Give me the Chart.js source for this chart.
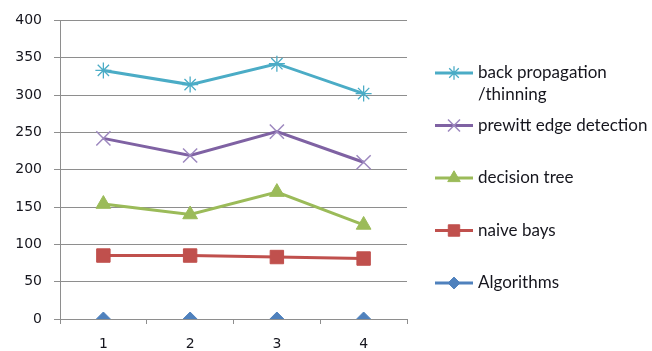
<!DOCTYPE html>
<html>
<head>
<meta charset="utf-8">
<script src="https://cdn.jsdelivr.net/npm/chart.js@4/dist/chart.umd.min.js"></script>
<style>
  html, body { margin: 0; padding: 0; background: #ffffff; }
  #wrap { width: 652px; height: 351px; }
</style>
</head>
<body>
<div id="wrap"><canvas id="chart" width="652" height="351"></canvas></div>
<script>
// Categories and series values
const categories = ['1', '2', '3', '4'];
const backPropagation = [333, 314, 342, 302];
const prewittEdge = [242, 219, 251, 210];
const decisionTree = [154, 140, 170, 126];
const naiveBays = [85, 85, 83, 81];
const algorithms = [0, 0, 0, 0];
const seriesNames = ['back propagation /thinning', 'prewitt edge detection', 'decision tree', 'naive bays', 'Algorithms'];
const yTicks = [0, 50, 100, 150, 200, 250, 300, 350, 400];

const gridColor = '#8e8e8e';
const textColor = '#16161e';

// Legend drawn at the right, line + marker + wrapped label
const sideLegend = {
  id: 'sideLegend',
  afterDraw(chart) {
    const ctx = chart.ctx;
    const x0 = 435, x1 = 473, tx = 478;
    const firstY = 73, step = 52.5, lineH = 22, maxW = 174;
    ctx.save();
    ctx.font = '17px Lato, "Open Sans", sans-serif';
    ctx.textBaseline = 'middle';
    ctx.textAlign = 'left';
    chart.data.datasets.forEach((ds, i) => {
      const y = firstY + i * step;
      ctx.strokeStyle = ds.borderColor;
      ctx.lineWidth = 3;
      ctx.beginPath();
      ctx.moveTo(x0, y);
      ctx.lineTo(x1, y);
      ctx.stroke();
      ctx.fillStyle = ds.pointBackgroundColor;
      ctx.strokeStyle = ds.pointBorderColor;
      ctx.lineWidth = ds.pointBorderWidth;
      Chart.helpers.drawPoint(ctx, {
        pointStyle: ds.pointStyle,
        radius: ds.pointRadius * 0.85,
        rotation: 0,
        borderWidth: ds.pointBorderWidth
      }, (x0 + x1) / 2, y);
      // word wrap
      const words = ds.label.split(' ');
      const lines = [];
      let cur = '';
      words.forEach(w => {
        const t = cur ? cur + ' ' + w : w;
        if (ctx.measureText(t).width > maxW && cur) { lines.push(cur); cur = w; }
        else cur = t;
      });
      lines.push(cur);
      ctx.fillStyle = textColor;
      lines.forEach((ln, k) => ctx.fillText(ln, tx, y + k * lineH));
    });
    ctx.restore();
  }
};

const seriesData = [backPropagation, prewittEdge, decisionTree, naiveBays, algorithms];
const seriesColors = ['#4bacc6', '#7f62a3', '#9bbb59', '#c0504d', '#4f81bd'];
const markerColors = ['#4bacc6', '#9d88bf', '#9bbb59', '#c0504d', '#4f81bd'];
const markerStyles = ['star', 'crossRot', 'triangle', 'rect', 'rectRot'];
const markerRadius = [8, 10, 8.5, 9.5, 7];
const markerBorder = [1.3, 1.5, 1, 1, 1];

const datasets = seriesNames.map((name, i) => ({
  label: name,
  data: seriesData[i],
  borderColor: seriesColors[i],
  borderWidth: 3,
  showLine: i !== 4,
  tension: 0,
  pointStyle: markerStyles[i],
  pointRadius: markerRadius[i],
  pointHoverRadius: markerRadius[i],
  pointBackgroundColor: markerColors[i],
  pointBorderColor: markerColors[i],
  pointBorderWidth: markerBorder[i],
  order: 4 - i
}));

new Chart(document.getElementById('chart'), {
  type: 'line',
  data: { labels: categories, datasets },
  options: {
    responsive: false,
    animation: false,
    layout: { padding: { left: 0, right: 245, top: 20, bottom: 0 } },
    plugins: { legend: { display: false }, tooltip: { enabled: false } },
    scales: {
      x: {
        offset: true,
        grid: {
          offset: true,
          drawOnChartArea: false,
          drawTicks: true,
          tickLength: 5,
          color: gridColor
        },
        border: { color: gridColor, width: 1 },
        ticks: { color: textColor, font: { family: '"DejaVu Sans", Verdana, sans-serif', size: 14 }, padding: 12 },
        afterFit(scale) { scale.height = 32; }
      },
      y: {
        min: 0,
        max: 400,
        afterBuildTicks(scale) { scale.ticks = yTicks.map(v => ({ value: v })); },
        grid: { color: gridColor, tickLength: 6, drawTicks: true },
        border: { color: gridColor, width: 1 },
        ticks: { color: textColor, font: { family: '"DejaVu Sans", Verdana, sans-serif', size: 14 }, padding: 12 },
        afterFit(scale) { scale.width = 60; }
      }
    }
  },
  plugins: [sideLegend]
});
</script>
</body>
</html>
